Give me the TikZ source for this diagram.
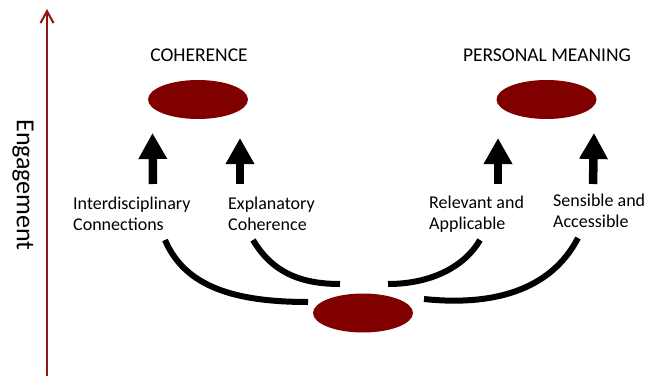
\documentclass[tikz,border=0pt]{standalone}
\usepackage{fontspec}
\setmainfont{Carlito}
\usetikzlibrary{arrows.meta,shapes.geometric}
\definecolor{ellred}{HTML}{800000}
\definecolor{axisred}{HTML}{8E1616}
\begin{document}
\begin{tikzpicture}[x=1pt,y=-1pt,
  blob/.style={ellipse, fill=ellred, draw=none, minimum width=100pt, minimum height=39pt, inner sep=0pt},
  uparrow/.style={line width=8.5pt, -{Triangle[width=27pt,length=26pt]}},
  link/.style={line width=6pt},
  lbl/.style={font=\fontsize{18}{21.5}\selectfont, align=left, inner sep=0pt, anchor=north west},
  ttl/.style={font=\fontsize{19.5}{23}\selectfont, inner sep=0pt, anchor=base},
  axisline/.style={draw=axisred, line width=2pt, -{Straight Barb[length=12pt,width=13pt]}}]
\useasboundingbox (0,0) rectangle (650,377);

% axis
\coordinate (ax0) at (47,376);
\coordinate (ax1) at (47,9);
\draw[axisline] (ax0) -- (ax1);
\node[rotate=-90, font=\fontsize{26}{30}\selectfont, inner sep=0pt] (eng) at (23,185) {Engagement};

% titles and ellipses
\node[ttl] (tcoh) at (199,62) {COHERENCE};
\node[ttl] (tpm) at (547,62) {PERSONAL MEANING};
\node[blob] (coh) at (198,99.5) {};
\node[blob] (pm) at (546.5,99.5) {};
\node[blob] (base) at (363,313) {};

% labels
\node[lbl] (l1) at (73,196.5) {Interdisciplinary\\Connections};
\node[lbl] (l2) at (228,196.5) {Explanatory\\Coherence};
\node[lbl] (l3) at (429,195.5) {Relevant and\\Applicable};
\node[lbl] (l4) at (553,193.5) {Sensible and\\Accessible};

% up arrows
\coordinate (u1a) at (153,184); \coordinate (u1b) at (152.5,133);
\coordinate (u2a) at (240,184); \coordinate (u2b) at (240,138);
\coordinate (u3a) at (498,184); \coordinate (u3b) at (498,138);
\coordinate (u4a) at (593,184); \coordinate (u4b) at (594,133);
\draw[uparrow] (u1a) -- (u1b);
\draw[uparrow] (u2a) -- (u2b);
\draw[uparrow] (u3a) -- (u3b);
\draw[uparrow] (u4a) -- (u4b);

% curved links
\coordinate (c1a) at (165,240); \coordinate (c1b) at (308,302);
\coordinate (c2a) at (253,240); \coordinate (c2b) at (340,284);
\coordinate (c3a) at (388,284); \coordinate (c3b) at (480,240);
\coordinate (c4a) at (424,299); \coordinate (c4b) at (578,238);
\draw[link] (c1a) .. controls (185,287) and (235,302) .. (c1b);
\draw[link] (c2a) .. controls (272,272) and (300,284) .. (c2b);
\draw[link] (c3a) .. controls (432,284) and (465,266) .. (c3b);
\draw[link] (c4a) .. controls (490,306) and (550,292) .. (c4b);
\end{tikzpicture}
\end{document}
